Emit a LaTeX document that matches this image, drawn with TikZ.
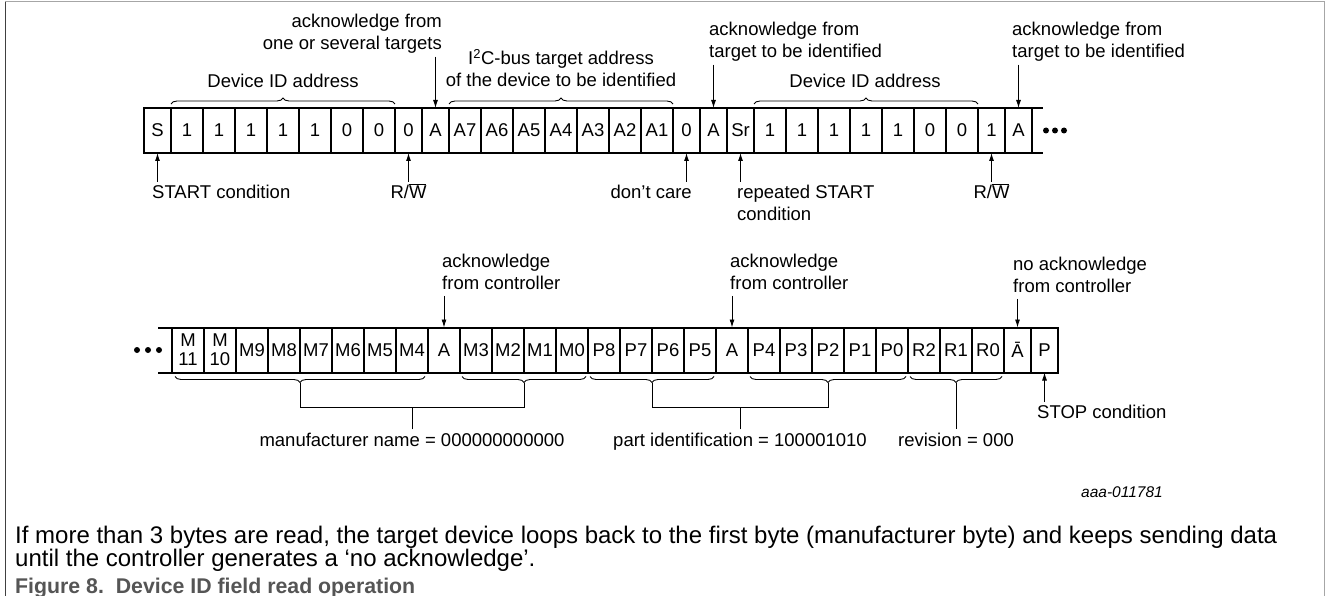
\documentclass[tikz,border=0pt]{standalone}
\usepackage{fontspec}
\setmainfont{Liberation Sans}
\usetikzlibrary{positioning,arrows.meta,decorations.pathreplacing,calc}

\definecolor{figgray}{HTML}{555555}
\newcommand{\labfont}{\fontsize{18.5}{22}\selectfont}
\newcommand{\notefont}{\fontsize{24}{23}\selectfont}
\newcommand{\capfont}{\fontsize{21.3}{24}\selectfont}

\begin{document}
\begin{tikzpicture}[x=1pt, y=-1pt,
  bit/.style={draw, line width=2pt, minimum height=45pt, inner sep=0pt, outer sep=0pt, font=\labfont, align=center},
  lab/.style={inner sep=0pt, font=\labfont},
  arr/.style={-{Latex[length=8pt,width=5pt]}, line width=0.9pt, shorten <=3pt},
  brc/.style={decorate, decoration={brace, amplitude=6pt}, line width=0.9pt},
  jn/.style={line width=0.9pt},
  rail/.style={line width=2pt}]
\useasboundingbox (0,0) rectangle (1328,596);

% frame
\draw[gray!70, line width=1pt] (5,2) -- (1325,2);
\draw[black!75, line width=1pt] (5.5,2) -- (5.5,596);
\draw[gray!70, line width=1pt] (1324.5,2) -- (1324.5,596);

% first frame
\coordinate (a0) at (144,130.5);
\foreach \t/\w [count=\i, remember=\i as \j (initially 0)] in {S/27, 1/32, 1/32, 1/32, 1/32, 1/32, 0/32, 0/32, 0/27, A/27,
    A7/32, A6/32, A5/32, A4/32, A3/32, A2/32, A1/32, 0/27, A/27, Sr/27,
    1/32, 1/32, 1/32, 1/32, 1/32, 0/32, 0/32, 1/27, A/27}
  \node[bit, minimum width=\w pt, right=0pt of a\j] (a\i) {\t};
\draw[rail] (a29.north east) -- ++(11,0);
\draw[rail] (a29.south east) -- ++(11,0);
\foreach \x in {1046,1055,1064} \fill (\x,130.5) circle (3pt);

\node[lab, anchor=north east, align=right] (ackany) at (442,14) {acknowledge from\\one or several targets};
\node[lab, anchor=base] (dev1) at (283,87.5) {Device ID address};
\node[lab, anchor=south, align=center] (i2c) at (561,87) {I\textsuperscript{2}C-bus target address\\of the device to be identified};
\node[lab, anchor=north west, align=left] (ackid1) at (709,22) {acknowledge from\\target to be identified};
\node[lab, anchor=base] (dev2) at (865,87.5) {Device ID address};
\node[lab, anchor=north west, align=left] (ackid2) at (1012,22) {acknowledge from\\target to be identified};

\draw[brc] ([shift={(0,-4)}]a2.north west) -- ([shift={(0,-4)}]a8.north east);
\draw[brc] ([shift={(0,-4)}]a11.north west) -- ([shift={(0,-4)}]a17.north east);
\draw[brc] ([shift={(0,-4)}]a21.north west) -- ([shift={(0,-4)}]a27.north east);

\draw[arr] (a10.north |- ackany.south) -- (a10.north);
\draw[arr] (a19.north |- ackid1.south) -- (a19.north);
\draw[arr] (a29.north |- ackid2.south) -- (a29.north);

\node[lab, anchor=base west] (startc) at (152,198.5) {START condition};
\node[lab, anchor=base] (rw1) at (408.5,198.5) {R/$\overline{\mbox{W}}$};
\node[lab, anchor=base east] (dc) at (692,198.5) {don't care};
\node[lab, anchor=north west, align=left] (rep) at (737,185) {repeated START\\condition};
\node[lab, anchor=base] (rw2) at (991.5,198.5) {R/$\overline{\mbox{W}}$};

\draw[arr] (a1.south |- startc.north) -- (a1.south);
\draw[arr] (a9.south |- startc.north) -- (a9.south);
\draw[arr] (a18.south |- dc.north) -- (a18.south);
\draw[arr] (a20.south |- rep.north) -- (a20.south);
\draw[arr] (a28.south |- startc.north) -- (a28.south);

% second frame
\coordinate (b0) at (172,350);
\foreach \t/\w [count=\i, remember=\i as \j (initially 0)] in {{M\\[-3pt]11}/32, {M\\[-3pt]10}/32, M9/32, M8/32, M7/32, M6/32, M5/32, M4/32, A/32,
    M3/32, M2/32, M1/32, M0/32, P8/32, P7/32, P6/32, P5/32, A/32,
    P4/32, P3/32, P2/32, P1/32, P0/32, R2/32, R1/32, R0/32, Ā/27, P/27}
  \node[bit, minimum width=\w pt, right=0pt of b\j] (b\i) {\t};
\draw[rail] (b1.north west) -- ++(-14,0);
\draw[rail] (b1.south west) -- ++(-14,0);
\foreach \x in {137,148,159} \fill (\x,350) circle (3pt);

\node[lab, anchor=north west, align=left] (ackc1) at (442,254) {acknowledge\\from controller};
\node[lab, anchor=north west, align=left] (ackc2) at (730,254) {acknowledge\\from controller};
\node[lab, anchor=north west, align=left] (noack) at (1013,257) {no acknowledge\\from controller};
\node[lab, anchor=north west] (stopc) at (1037,405) {STOP condition};

\draw[arr, shorten <=6pt] (b9.north |- ackc1.south) -- (b9.north);
\draw[arr, shorten <=6pt] (b18.north |- ackc2.south) -- (b18.north);
\draw[arr, shorten <=6pt] (b27.north |- noack.south) -- (b27.north);
\draw[arr] (b28.south |- stopc.north) -- (b28.south);

% fields
\draw[brc] ([shift={(-3,4)}]b8.south east) -- ([shift={(3,4)}]b1.south west);
\draw[brc] ([shift={(-2,4)}]b13.south east) -- ([shift={(2,4)}]b10.south west);
\draw[brc] ([shift={(-2,4)}]b17.south east) -- ([shift={(2,4)}]b14.south west);
\draw[brc] ([shift={(-2,4)}]b23.south east) -- ([shift={(2,4)}]b19.south west);
\draw[brc] ([shift={(-2,4)}]b26.south east) -- ([shift={(2,4)}]b24.south west);

\coordinate (t1) at ($(b1.south west)!.5!(b8.south east) + (0,10)$);
\coordinate (t2) at ($(b10.south west)!.5!(b13.south east) + (0,10)$);
\coordinate (t3) at ($(b14.south west)!.5!(b17.south east) + (0,10)$);
\coordinate (t4) at ($(b19.south west)!.5!(b23.south east) + (0,10)$);
\coordinate (t5) at ($(b24.south west)!.5!(b26.south east) + (0,10)$);
\coordinate (jrow) at (0,407);

\node[lab, anchor=base] (manu) at (412,446) {manufacturer name = 000000000000};
\node[lab, anchor=base] (part) at (740,446) {part identification = 100001010};
\node[lab, anchor=base] (rev) at (956,446) {revision = 000};

\draw[jn] (t1) -- (t1 |- jrow) -| (t2);
\draw[jn] (t3) -- (t3 |- jrow) -| (t4);
\draw[jn, shorten <=3pt] (manu) -- (manu |- jrow);
\draw[jn, shorten <=3pt] (part) -- (part |- jrow);
\draw[jn, shorten >=3pt] (t5) -- (rev);

\node[lab, font=\fontsize{15.5}{18}\selectfont\itshape, anchor=base east] (figid) at (1163,497) {aaa-011781};

% caption
\node[anchor=base west, inner sep=0pt, font=\notefont, align=left] (note) at (15,566) {If more than 3 bytes are read, the target device loops back to the first byte (manufacturer byte) and keeps sending data\\until the controller generates a ‘no acknowledge’.};
\node[anchor=base west, inner sep=0pt, font=\capfont\bfseries, text=figgray] (figcap) at (15,593) {Figure 8.\ \ Device ID field read operation};
\end{tikzpicture}
\end{document}
